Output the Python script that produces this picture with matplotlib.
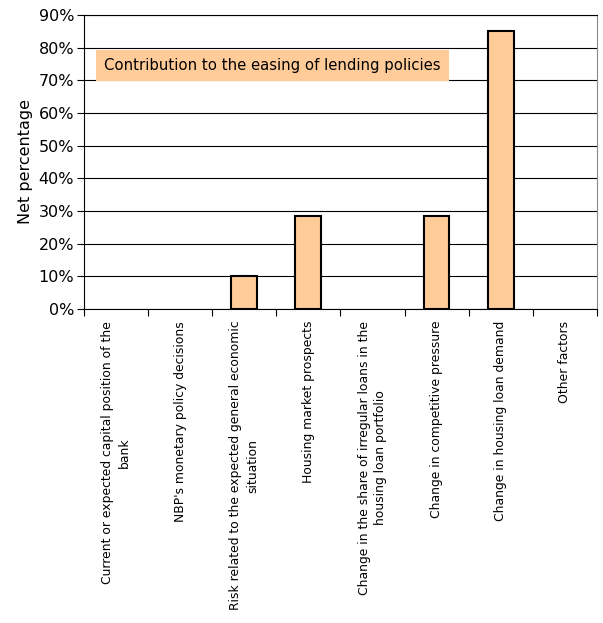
import matplotlib
matplotlib.use('Agg')
import matplotlib.pyplot as plt
from matplotlib.ticker import PercentFormatter

# --- Data ---
CATEGORIES = [
    'Current or expected capital position of the\nbank',
    "NBP's monetary policy decisions",
    'Risk related to the expected general economic\nsituation',
    'Housing market prospects',
    'Change in the share of irregular loans in the\nhousing loan portfolio',
    'Change in competitive pressure',
    'Change in housing loan demand',
    'Other factors',
]
NET_PERCENT = [0, 0, 10, 28.5, 0, 28.5, 85, 0]
Y_TICKS = list(range(0, 91, 10))

BAR_COLOR = '#FFCC99'
FONT = 'DejaVu Sans'

fig = plt.figure(figsize=(6.03, 6.23), dpi=100)
ax = fig.add_axes([0.139, 0.504, 0.851, 0.472])

x = range(len(CATEGORIES))
# zero-height bars get no outline, as in the original
edge_widths = [1.5 if v else 0 for v in NET_PERCENT]
ax.bar(x, NET_PERCENT, width=0.4, color=BAR_COLOR, edgecolor='black',
       linewidth=edge_widths, zorder=3)

ax.set_xlim(-0.5, len(CATEGORIES) - 0.5)
ax.set_ylim(0, 90)
ax.set_yticks(Y_TICKS)
ax.yaxis.set_major_formatter(PercentFormatter(decimals=0))
ax.grid(axis='y', color='black', linewidth=0.8, zorder=0)

# category boundaries carry the ticks, labels sit in the middle
ax.set_xticks([i - 0.5 for i in range(len(CATEGORIES) + 1)])
ax.set_xticklabels([])
ax.tick_params(axis='x', length=5, direction='out', width=0.8)
ax.tick_params(axis='y', length=5, direction='out', width=0.8,
               labelsize=11.5, pad=2)
for i, lab in enumerate(CATEGORIES):
    ax.text(i, -3.6, lab, rotation=90, ha='center', va='top',
            multialignment='center', fontsize=8.9, family=FONT,
            linespacing=1.35)

for s in ax.spines.values():
    s.set_color('black')
    s.set_linewidth(0.8)
ax.spines['right'].set_color('#888888')

ax.set_ylabel('Net percentage', fontsize=11.5, labelpad=4)

ax.text(0.039, 0.827, 'Contribution to the easing of lending policies',
        transform=ax.transAxes, fontsize=10.7, va='center', ha='left',
        bbox=dict(facecolor=BAR_COLOR, edgecolor='none',
                  boxstyle='square,pad=0.55'))

fig.savefig('out.png', dpi=100)
